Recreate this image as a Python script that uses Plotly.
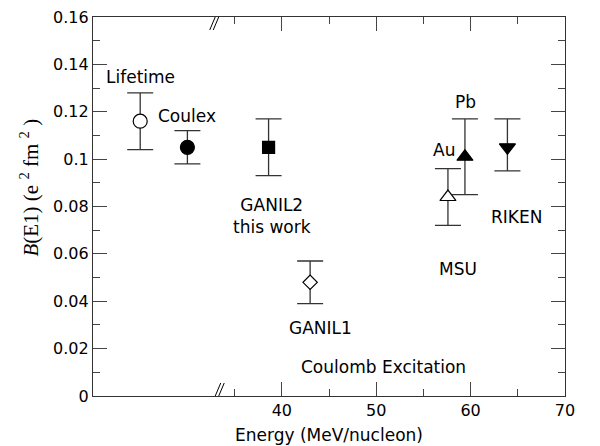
import plotly.graph_objects as go

# ---- data ----
names = ["Lifetime", "Coulex", "GANIL2", "GANIL1", "Au", "Pb", "RIKEN"]
energy = [25.0, 30.0, 38.6, 43.0, 57.6, 59.4, 63.9]
be1 = [0.116, 0.105, 0.105, 0.048, 0.084, 0.101, 0.105]
err_plus = [0.012, 0.007, 0.012, 0.009, 0.012, 0.016, 0.012]
err_minus = [0.012, 0.007, 0.012, 0.009, 0.012, 0.016, 0.010]
symbols = ["circle", "circle", "square", "diamond", "triangle-up", "triangle-up", "triangle-down"]
fills = ["white", "black", "black", "white", "white", "black", "black"]
sizes = [14, 14, 12, 11, 14, 14, 14]

x_ticks = [40, 50, 60, 70]
x_minor = [35, 45, 55, 65]
y_ticks = [0, 0.02, 0.04, 0.06, 0.08, 0.1, 0.12, 0.14, 0.16]
y_ticktext = ["0", "0.02", "0.04", "0.06", "0.08", "0.1", "0.12", "0.14", "0.16"]

labels = [
    ("Lifetime", 25.0, 0.1346),
    ("Coulex", 30.0, 0.1184),
    ("GANIL2<br>this work", 39.0, 0.0759),
    ("GANIL1", 44.05, 0.0287),
    ("Coulomb Excitation", 50.8, 0.0122),
    ("MSU", 58.66, 0.0535),
    ("Au", 57.18, 0.1037),
    ("Pb", 59.51, 0.1243),
    ("RIKEN", 64.88, 0.0755),
]
x_break = 33.0

SANS = "DejaVu Sans"
SERIF = "Liberation Serif"

fig = go.Figure()
fig.add_trace(go.Scatter(
    x=energy, y=be1, mode="markers",
    marker=dict(symbol=symbols, size=sizes, color=fills, opacity=1,
                line=dict(color="black", width=1.2)),
    error_y=dict(type="data", symmetric=False, array=err_plus, arrayminus=err_minus,
                 color="#333333", thickness=1.3, width=13),
    showlegend=False, hoverinfo="skip",
))

for text, xx, yy in labels:
    fig.add_annotation(x=xx, y=yy, xref="x", yref="y", text=text, showarrow=False,
                       font=dict(family=SANS, size=17, color="black"),
                       xanchor="center", yanchor="middle")

fig.add_annotation(x=-0.1335, y=0.55, xref="paper", yref="paper", textangle=-90,
                   text="<i>B</i>(E1) (e <sup>2</sup> fm <sup>2</sup> )", showarrow=False,
                   font=dict(family=SERIF, size=21, color="black"),
                   xanchor="center", yanchor="middle")

# axis break marks
for yanc in (0.0, 0.16):
    for dx in (0, 3.5):
        fig.add_shape(type="line", xref="x", yref="y", xsizemode="pixel", ysizemode="pixel",
                      xanchor=x_break, yanchor=yanc,
                      x0=-6 + dx, y0=-13, x1=5 + dx, y1=13,
                      line=dict(color="black", width=1))

axis_common = dict(showline=True, linecolor="#333333", linewidth=1.2, mirror="ticks",
                   ticks="inside", tickcolor="#444444", tickwidth=1.2, showgrid=False,
                   zeroline=False, ticklabeloverflow="allow",
                   tickfont=dict(family=SANS, size=16, color="black"))

fig.update_xaxes(range=[20, 70], tickvals=x_ticks, ticklen=14,
                 minor=dict(tickvals=x_minor, ticklen=7, ticks="inside", tickcolor="#444444", showgrid=False),
                 title=dict(text="Energy (MeV/nucleon)", font=dict(family=SANS, size=17, color="black"),
                            standoff=9),
                 automargin=False,
                 **axis_common)
fig.update_yaxes(range=[0, 0.16], tickvals=y_ticks, ticktext=y_ticktext, ticklen=14,
                 minor=dict(dtick=0.01, ticklen=7, ticks="inside", tickcolor="#444444", showgrid=False),
                 automargin=False,
                 **axis_common)

# page body adds an 8px offset; size the figure so the visible plot matches
fig.update_layout(width=592, height=438, plot_bgcolor="white", paper_bgcolor="white",
                  margin=dict(l=85, r=35, t=8.5, b=50.3))

fig.write_html("out.html")
